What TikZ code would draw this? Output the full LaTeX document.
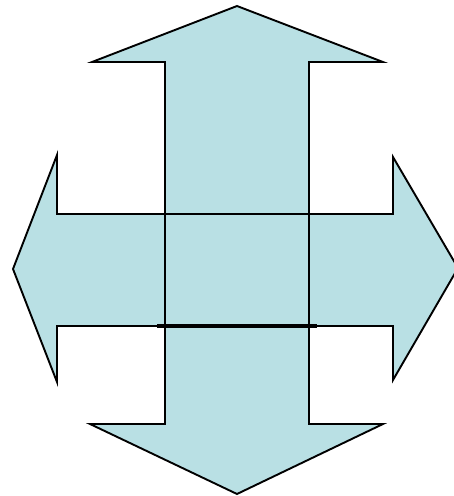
\documentclass[tikz,border=0pt]{standalone}
\definecolor{arrowfill}{RGB}{185,224,228}
\tikzset{
  bigarrow/.style={draw=black, line width=1.9pt, line join=miter},
  baseline bar/.style={draw=black, line width=4pt}
}
\begin{document}
\begin{tikzpicture}[x=1pt,y=-1pt]
\useasboundingbox (0,0) rectangle (454,496);
\begin{scope}
\clip (0,0) rectangle (454,496);
\fill[arrowfill] (237,6) -- (383,62) -- (309,62) -- (309,424) -- (383,424) -- (237,494) -- (90,424) -- (165,424) -- (165,62) -- (92,62) -- cycle;
\fill[arrowfill] (13,269) -- (57,155) -- (57,214) -- (393,214) -- (393,157) -- (458,268) -- (393,380) -- (393,326) -- (57,326) -- (57,382) -- cycle;
\draw[bigarrow] (237,6) -- (383,62) -- (309,62) -- (309,424) -- (383,424) -- (237,494) -- (90,424) -- (165,424) -- (165,62) -- (92,62) -- cycle;
\draw[bigarrow] (13,269) -- (57,155) -- (57,214) -- (393,214) -- (393,157) -- (458,268) -- (393,380) -- (393,326) -- (57,326) -- (57,382) -- cycle;
\coordinate (barL) at (157,326);
\coordinate (barR) at (317,326);
\draw[baseline bar] (barL) -- (barR);
\end{scope}
\end{tikzpicture}
\end{document}
